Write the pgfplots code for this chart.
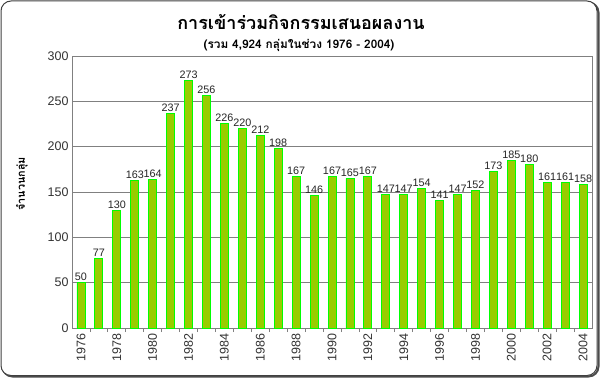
\documentclass[border=0pt]{standalone}
\usepackage{pgfplots}
\pgfplotsset{compat=1.18}
\usepackage{fontspec}
\setmainfont{Liberation Sans}
\newfontfamily\thaifont[Script=Thai]{Loma}
\definecolor{barfill}{HTML}{99CC00}
\definecolor{baredge}{HTML}{00FF00}
\definecolor{gridc}{HTML}{808080}
\begin{document}
\begin{tikzpicture}[x=1bp,y=1bp]
\useasboundingbox (0,0) rectangle (600,378);
\draw[line width=2bp, black!70, rounded corners=10bp] (2.5,1.5) rectangle (598.5,375.5);
\draw[line width=1bp, black!75, rounded corners=10bp, fill=white] (1,2.5) rectangle (597,377);
\node[font={\thaifont\bfseries\fontsize{18bp}{20bp}\selectfont}] at (301,356) {การเข้าร่วมกิจกรรมเสนอผลงาน};
\node[font={\thaifont\bfseries\fontsize{11.8bp}{13bp}\selectfont}] at (299,333) {(รวม 4,924 กลุ่มในช่วง 1976 - 2004)};
\node[font={\thaifont\bfseries\fontsize{10.8bp}{12bp}\selectfont}, rotate=90] at (22,194) {จำนวนกลุ่ม};
\begin{axis}[
  at={(72bp,50bp)}, anchor=south west,
  scale only axis, width=520bp, height=272bp,
  xmin=-0.5, xmax=28.5, ymin=0, ymax=300,
  ytick={0,50,...,300},
  xtick={0,2,...,28},
  xticklabels={1976,1978,1980,1982,1984,1986,1988,1990,1992,1994,1996,1998,2000,2002,2004},
  minor xtick={0.5,1.5,...,27.5},
  major tick length=0pt, minor tick length=4bp,
  tick align=inside, xtick pos=bottom, ytick pos=left,
  minor tick style={gridc, line width=0.8bp},
  ymajorgrids, grid style={gridc, line width=0.8bp},
  axis line style={gridc, line width=0.8bp},
  /pgf/number format/assume math mode=true,
  ticklabel style={font=\fontsize{12.5bp}{14bp}\selectfont, text=black!80},
  xticklabel style={rotate=90, anchor=east, xshift=-2bp},
  ybar, bar width=8bp,
  nodes near coords,
  nodes near coords style={font=\fontsize{10.8bp}{12bp}\selectfont, text=black!85, inner sep=1.5bp},
]
\addplot[fill=barfill, draw=baredge, line width=0.8bp] coordinates {
(0,50) (1,77) (2,130) (3,163) (4,164) (5,237) (6,273) (7,256) (8,226) (9,220)
(10,212) (11,198) (12,167) (13,146) (14,167) (15,165) (16,167) (17,147) (18,147) (19,154)
(20,141) (21,147) (22,152) (23,173) (24,185) (25,180) (26,161) (27,161) (28,158)
};
\end{axis}
\end{tikzpicture}
\end{document}
